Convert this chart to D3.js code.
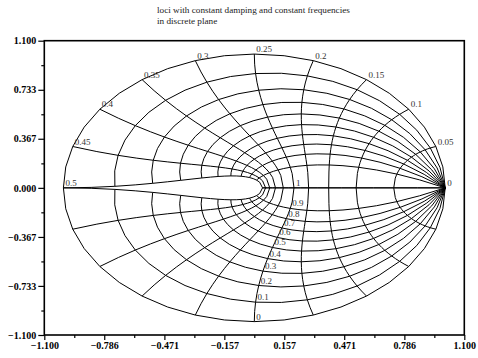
<!DOCTYPE html>
<html>
<head>
<meta charset="utf-8">
<script src="https://cdn.jsdelivr.net/npm/d3@7"></script>
<style>
  body { margin: 0; background: #fff; }
  svg { display: block; }
</style>
</head>
<body>
<svg id="zgrid" width="478" height="358"></svg>
<script>
// damping factors and normalised frequencies of the grid
var zetaValues = [0, 0.1, 0.2, 0.3, 0.4, 0.5, 0.6, 0.7, 0.8, 0.9, 1]
var wnValues = [0, 0.05, 0.1, 0.15, 0.2, 0.25, 0.3, 0.35, 0.4, 0.45, 0.5]
// sampling of the curves (frequency as fraction of 2*pi, damping 0..1)
var freqSteps = [0, 0.025, 0.05, 0.075, 0.1, 0.125, 0.15, 0.175, 0.2, 0.225, 0.25,
  0.275, 0.3, 0.325, 0.35, 0.375, 0.4, 0.425, 0.45, 0.475, 0.5]
var dampSteps = [0, 0.05, 0.1, 0.15, 0.2, 0.25, 0.3, 0.35, 0.4, 0.45, 0.5,
  0.55, 0.6, 0.65, 0.7, 0.75, 0.8, 0.85, 0.9, 0.95, 1]
var zetaLabelFreq = 0.25
var xTicks = [-1.1, -0.786, -0.471, -0.157, 0.157, 0.471, 0.786, 1.1]
var xMinor = [-0.943, -0.629, -0.314, 0, 0.314, 0.629, 0.943]
var yTicks = [-1.1, -0.733, -0.367, 0, 0.367, 0.733, 1.1]
var yMinor = [-0.917, -0.55, -0.183, 0.183, 0.55, 0.917]
var titleLines = ["loci with constant damping and constant frequencies", "in discrete plane"]

var dimensions = {
  width: 478,
  height: 358,
  margin: { top: 40.7, bottom: 23, right: 13.7, left: 44.3 }
}

var svg = d3.select("#zgrid")

var xScale = d3.scaleLinear()
  .domain([-1.1, 1.1])
  .range([dimensions.margin.left, dimensions.width - dimensions.margin.right])

var yScale = d3.scaleLinear()
  .domain([-1.1, 1.1])
  .range([dimensions.height - dimensions.margin.bottom, dimensions.margin.top])

// z = exp(s), s = wn*(-zeta + i*sqrt(1-zeta^2)), wn = 2*pi*f
function zPoint(zeta, f) {
  var w = 2 * Math.PI * f
  var r = Math.exp(-zeta * w)
  var a = w * Math.sqrt(Math.max(0, 1 - zeta * zeta))
  return [r * Math.cos(a), r * Math.sin(a)]
}

var line = d3.line()
  .x(d => xScale(d[0]))
  .y(d => yScale(d[1]))

var curves = []
zetaValues.forEach(function (zeta) {
  var pts = freqSteps.map(f => zPoint(zeta, f))
  curves.push(pts)
  curves.push(pts.map(p => [p[0], -p[1]]))
})
wnValues.forEach(function (f) {
  if (f == 0) return
  var pts = dampSteps.map(z => zPoint(z, f))
  curves.push(pts)
  curves.push(pts.map(p => [p[0], -p[1]]))
})

svg.append("g")
  .selectAll("path")
  .data(curves)
  .enter().append("path")
  .attr("d", line)
  .attr("fill", "none")
  .attr("stroke", "#000")
  .attr("stroke-width", 1)

var labels = svg.append("g")
  .style("font-family", "'Liberation Serif', 'Times New Roman', serif")
  .style("font-size", "9px")
  .attr("fill", "#333")

labels.selectAll("text.wn")
  .data(wnValues)
  .enter().append("text")
  .attr("class", "wn")
  .attr("x", d => xScale(zPoint(0, d)[0]) + 2)
  .attr("y", d => yScale(zPoint(0, d)[1]) - 2)
  .text(d => String(d))

labels.selectAll("text.zeta")
  .data(zetaValues)
  .enter().append("text")
  .attr("class", "zeta")
  .attr("x", d => xScale(zPoint(d, zetaLabelFreq)[0]) + 2)
  .attr("y", d => yScale(-zPoint(d, zetaLabelFreq)[1]) - 2)
  .text(d => String(d))

// frame
svg.append("rect")
  .attr("x", xScale(-1.1))
  .attr("y", yScale(1.1))
  .attr("width", xScale(1.1) - xScale(-1.1))
  .attr("height", yScale(-1.1) - yScale(1.1))
  .attr("fill", "none")
  .attr("stroke", "#000")
  .attr("stroke-width", 1.6)

var fmt = d3.format(".3f")
var minusFmt = d => fmt(d).replace("-", "\u2212")

var xAxis = svg.append("g")
  .attr("transform", `translate(0,${yScale(-1.1)})`)
  .call(d3.axisBottom(xScale).tickValues(xTicks).tickSize(5).tickPadding(2).tickFormat(minusFmt))
svg.append("g")
  .attr("transform", `translate(0,${yScale(-1.1)})`)
  .call(d3.axisBottom(xScale).tickValues(xMinor).tickSize(3).tickFormat(""))

var yAxis = svg.append("g")
  .attr("transform", `translate(${xScale(-1.1)},0)`)
  .call(d3.axisLeft(yScale).tickValues(yTicks).tickSize(6).tickPadding(2).tickFormat(minusFmt))
svg.append("g")
  .attr("transform", `translate(${xScale(-1.1)},0)`)
  .call(d3.axisLeft(yScale).tickValues(yMinor).tickSize(3).tickFormat(""))

svg.selectAll(".domain").remove()
svg.selectAll(".tick line").attr("stroke", "#000").attr("stroke-width", 1.2)
svg.selectAll(".tick text")
  .attr("fill", "#000")
  .style("font-family", "'Liberation Serif', 'Times New Roman', serif")
  .style("font-size", "10px")
  .style("font-weight", "bold")

svg.append("g")
  .selectAll("text")
  .data(titleLines)
  .enter().append("text")
  .attr("x", 157)
  .attr("y", (d, i) => 13 + i * 10.5)
  .style("font-family", "'Liberation Serif', 'Times New Roman', serif")
  .style("font-size", "9.2px")
  .attr("fill", "#222")
  .text(d => d)
</script>
</body>
</html>
